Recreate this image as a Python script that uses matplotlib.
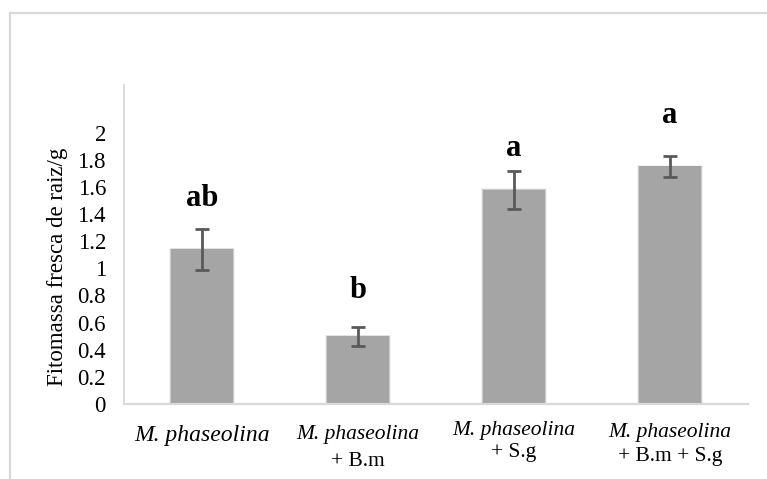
"""
Bar chart of fresh root biomass for the M. phaseolina treatments,
with standard error bars and significance letters.
"""

import matplotlib
matplotlib.use("Agg")
import matplotlib.pyplot as plt
from matplotlib.patches import Rectangle

# treatment means and standard errors (g)
treatments = ["M. phaseolina", "M. phaseolina", "M. phaseolina", "M. phaseolina"]
suffixes = ["", "+ B.m", "+ S.g", "+ B.m + S.g"]
means = [1.14, 0.50, 1.58, 1.75]
errors = [0.15, 0.07, 0.14, 0.08]
letters = ["ab", "b", "a", "a"]
letter_heights = [1.46, 0.78, 1.83, 2.07]
y_ticks = [0, 0.2, 0.4, 0.6, 0.8, 1.0, 1.2, 1.4, 1.6, 1.8, 2.0]

BAR_COLOR = "#a5a5a5"
ERR_COLOR = "#595959"
LINE_COLOR = "#d9d9d9"

plt.rcParams["font.family"] = ["Liberation Serif", "DejaVu Serif"]

fig = plt.figure(figsize=(7.67, 4.79), dpi=100)

# light frame around the chart area
fig.patches.append(Rectangle((10 / 767, -0.1), 1.2, (479 - 13) / 479 + 0.1,
                             transform=fig.transFigure, fill=False,
                             edgecolor=LINE_COLOR, linewidth=1.6))

ax = fig.add_axes([124 / 767, 75 / 479, 624 / 767, 319 / 479])

x = list(range(len(means)))

# soft halo around the bars
for grow, alpha in [(0.024, 0.10), (0.014, 0.16), (0.006, 0.25)]:
    ax.bar(x, [m + grow * 0.4 for m in means], width=0.4 + grow,
           color="#8c8c8c", alpha=alpha, linewidth=0, zorder=1)

ax.bar(x, means, width=0.4, color=BAR_COLOR, linewidth=0, zorder=2)
ax.errorbar(x, means, yerr=errors, fmt="none", ecolor=ERR_COLOR,
            elinewidth=2, capsize=5, capthick=2, zorder=3)

for xi, letter, h in zip(x, letters, letter_heights):
    ax.text(xi, h, letter, ha="center", va="baseline",
            fontsize=22, fontweight="bold")

ax.set_xlim(-0.5, 3.5)
ax.set_ylim(0, 2.35)
ax.set_yticks(y_ticks)
ax.set_yticklabels([f"{v:g}" for v in y_ticks], fontsize=16.5)
ax.tick_params(axis="y", length=0, pad=13)
ax.set_xticks([])

for side in ["top", "right"]:
    ax.spines[side].set_visible(False)
ax.spines["left"].set_color(LINE_COLOR)
ax.spines["bottom"].set_color(LINE_COLOR)
ax.spines["left"].set_linewidth(1.3)
ax.spines["bottom"].set_linewidth(1.6)

ax.set_ylabel("Fitomassa fresca de raiz/g", fontsize=16.5, va="center")
ax.yaxis.set_label_coords(-0.106, 0.43)

# category labels: italic species name, optional roman second line
line1_offsets = [31, 31, 26, 29]
line2_offsets = [58, 48, 53]
xaxis_tf = ax.get_xaxis_transform()
for i, (name, suffix) in enumerate(zip(treatments, suffixes)):
    size = 17 if i == 0 else 15.5
    ax.annotate(name, xy=(i, 0), xycoords=xaxis_tf,
                xytext=(0, -line1_offsets[i] * 0.72), textcoords="offset points",
                ha="center", va="center", fontsize=size, style="italic")
    if suffix:
        ax.annotate(suffix, xy=(i, 0), xycoords=xaxis_tf,
                    xytext=(0, -line2_offsets[i - 1] * 0.72),
                    textcoords="offset points",
                    ha="center", va="center", fontsize=size)

fig.savefig("out.png", dpi=100)
